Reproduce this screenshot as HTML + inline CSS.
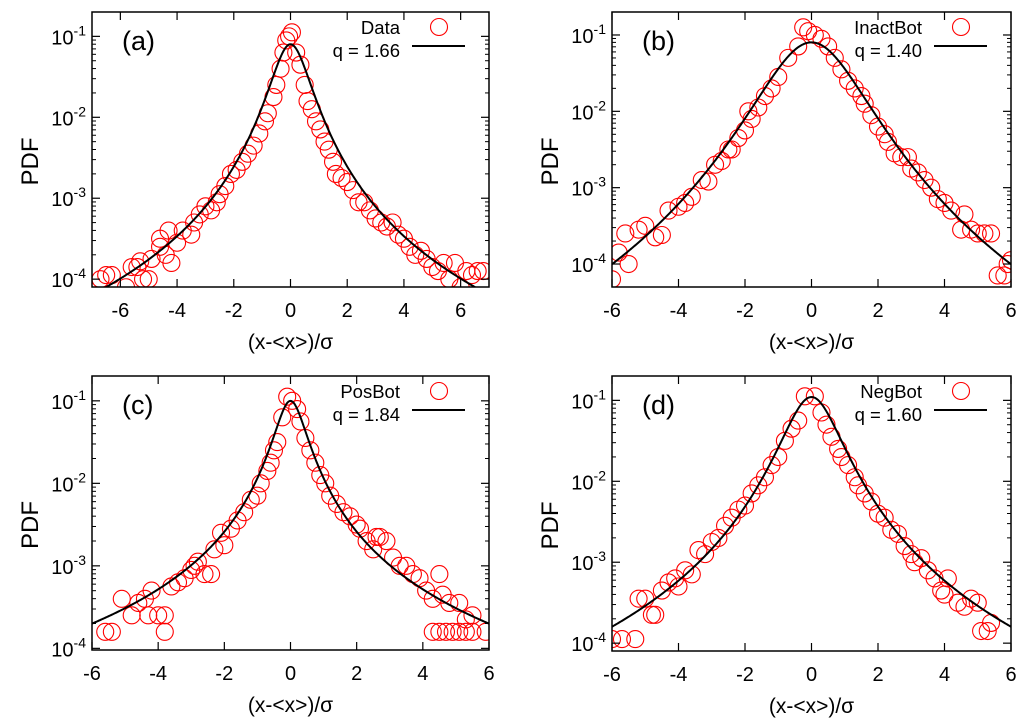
<!DOCTYPE html>
<html><head><meta charset="utf-8"><style>
html,body{margin:0;padding:0;background:#fff;}
svg text{font-family:"Liberation Sans",Arial,sans-serif;fill:#000;}
</style></head>
<body>
<svg id="fig" width="1024" height="723" viewBox="0 0 1024 723" xmlns="http://www.w3.org/2000/svg"></svg>
<script>
// Panel (a) data
const aX=[-6.7,-6.5,-6.3,-5.8,-5.6,-5.4,-5.2,-5.0,-5.3,-4.9,-4.6,-4.4,-4.2,-4.0,-4.6,-4.3,-3.8,-3.5,-3.4,-3.2,-3.0,-2.8,-2.6,-2.5,-2.3,-2.1,-1.9,-1.7,-1.5,-1.3,-1.1,-0.9,-0.8,-0.6,-0.5,-0.35,-0.25,-0.15,-0.05,0.05,0.2,0.35,0.5,0.6,0.75,0.9,1.05,1.2,1.35,1.5,1.6,1.8,2.0,2.2,2.4,2.6,2.8,3.0,3.2,3.4,3.6,3.8,4.0,4.2,4.4,4.6,4.8,5.0,5.2,5.4,5.6,5.8,6.0,6.2,6.4,6.6,6.8];
const aLogP=[-4.0,-3.95,-3.95,-4.1,-3.85,-3.85,-4.0,-4.0,-3.78,-3.75,-3.6,-3.7,-3.8,-3.55,-3.5,-3.4,-3.4,-3.45,-3.3,-3.2,-3.1,-3.15,-3.05,-2.95,-2.85,-2.7,-2.65,-2.55,-2.45,-2.35,-2.2,-2.05,-1.95,-1.75,-1.6,-1.4,-1.2,-1.05,-1.0,-0.95,-1.2,-1.35,-1.6,-1.8,-1.9,-2.05,-2.15,-2.3,-2.4,-2.55,-2.7,-2.75,-2.8,-2.9,-3.05,-3.05,-3.15,-3.25,-3.3,-3.35,-3.3,-3.45,-3.5,-3.6,-3.7,-3.65,-3.75,-3.85,-3.9,-3.8,-4.0,-3.8,-4.1,-3.9,-3.95,-3.9,-3.9];
// Panel (b) data
const bX=[-6,-5.8,-5.5,-5.6,-5.2,-5,-4.7,-4.5,-4.3,-4.0,-3.8,-3.6,-3.3,-3.1,-2.9,-2.7,-2.5,-2.4,-2.2,-2.0,-1.8,-1.9,-1.6,-1.4,-1.2,-1.0,-0.7,-0.4,-0.25,-0.1,0.1,0.3,0.5,0.7,0.9,1.1,1.3,1.5,1.6,1.8,2.0,2.2,2.3,2.5,2.7,2.9,3.0,3.2,3.4,3.6,3.8,4.0,4.2,4.6,4.5,4.8,5.0,5.2,5.4,5.6,5.8,6.0,5.9];
const bLogP=[-4.2,-3.85,-4.0,-3.6,-3.55,-3.5,-3.65,-3.62,-3.3,-3.25,-3.2,-3.12,-2.9,-2.92,-2.7,-2.65,-2.5,-2.5,-2.35,-2.25,-2.1,-2.0,-1.95,-1.8,-1.7,-1.55,-1.3,-1.15,-0.9,-0.95,-1.0,-1.05,-1.15,-1.3,-1.45,-1.6,-1.7,-1.8,-1.9,-2.05,-2.2,-2.3,-2.4,-2.55,-2.6,-2.6,-2.75,-2.8,-2.9,-3.0,-3.15,-3.2,-3.3,-3.35,-3.55,-3.55,-3.6,-3.6,-3.6,-4.15,-4.15,-3.95,-4.0];
// Panel (c) data
const cX=[-5.6,-5.4,-5.1,-4.8,-4.6,-4.4,-4.2,-4.3,-4.0,-3.8,-3.8,-3.6,-3.4,-3.2,-3.0,-2.9,-2.8,-2.6,-2.4,-2.3,-2.1,-2.0,-1.8,-1.6,-1.4,-1.2,-1.0,-0.9,-0.7,-0.6,-0.5,-0.4,-0.25,-0.1,0.05,0.2,0.3,0.45,0.6,0.75,0.9,1.05,1.2,1.4,1.6,1.8,2.0,2.1,2.3,2.5,2.7,2.9,3.1,3.3,3.5,3.7,3.9,4.1,4.3,4.5,4.6,4.8,5.1,5.3,5.5,4.3,4.5,4.7,4.9,5.1,5.3,5.5,5.9,2.6];
const cLogP=[-3.8,-3.8,-3.4,-3.6,-3.45,-3.4,-3.3,-3.6,-3.6,-3.6,-3.8,-3.25,-3.2,-3.15,-3.05,-3.0,-2.95,-3.1,-3.1,-2.8,-2.6,-2.75,-2.55,-2.45,-2.35,-2.2,-2.15,-2.0,-1.85,-1.75,-1.6,-1.5,-1.2,-0.95,-1.0,-1.1,-1.25,-1.45,-1.6,-1.75,-1.9,-2.0,-2.15,-2.25,-2.35,-2.4,-2.5,-2.55,-2.7,-2.8,-2.65,-2.7,-2.9,-3.0,-3.0,-3.1,-3.15,-3.3,-3.4,-3.1,-3.35,-3.45,-3.45,-3.65,-3.6,-3.8,-3.8,-3.8,-3.8,-3.8,-3.8,-3.8,-3.8,-2.65];
// Panel (d) data
const dX=[-6,-5.7,-5.3,-5.0,-5.2,-4.8,-4.7,-4.5,-4.3,-4.1,-4.0,-3.8,-3.6,-3.4,-3.2,-3.0,-2.8,-2.6,-2.4,-2.2,-2.0,-1.8,-1.6,-1.4,-1.2,-1.0,-0.8,-0.6,-0.4,-0.2,0.1,0.3,0.45,0.6,0.8,0.9,1.1,1.3,1.4,1.6,1.8,2.0,2.2,2.4,2.6,2.8,3.0,3.1,3.3,3.5,3.7,3.9,4.1,4.0,4.4,4.6,4.8,5.0,5.1,5.3,5.4];
const dLogP=[-3.95,-3.95,-3.95,-3.45,-3.45,-3.65,-3.65,-3.35,-3.25,-3.2,-3.3,-3.1,-3.15,-2.85,-2.9,-2.75,-2.7,-2.55,-2.45,-2.35,-2.3,-2.15,-2.05,-1.95,-1.8,-1.7,-1.5,-1.35,-1.25,-0.95,-0.95,-1.15,-1.3,-1.45,-1.6,-1.7,-1.8,-1.95,-2.05,-2.15,-2.25,-2.4,-2.45,-2.6,-2.65,-2.8,-2.9,-3.0,-2.95,-3.1,-3.2,-3.35,-3.2,-3.4,-3.5,-3.55,-3.45,-3.5,-3.85,-3.85,-3.75];
// fit parameters [q, amplitude, beta]
const fitQ=[1.66,1.40,1.84,1.60];
const fitA=[0.08,0.08,0.10,0.11];
const fitB=[3.39,0.94,6.1,2.29];
const panelLabels=["(a)","(b)","(c)","(d)"];
const legendNames=["Data","InactBot","PosBot","NegBot"];
const xTicks=[-6,-4,-2,0,2,4,6];
const yDecades=[-4,-3,-2,-1];

const NS="http://www.w3.org/2000/svg";
const svg=document.getElementById('fig');
function mk(tag,attrs,parent){const e=document.createElementNS(NS,tag);for(const k in attrs)e.setAttribute(k,attrs[k]);(parent||svg).appendChild(e);return e;}

const panels=[
 {L:92,R:489,T:12,B:287,xmin:-7,xmax:7,ymin:Math.log10(8e-5),ymax:Math.log10(0.2),xs:aX,ys:aLogP,name:'panel-a'},
 {L:612,R:1011,T:12,B:287,xmin:-6,xmax:6,ymin:Math.log10(5e-5),ymax:Math.log10(0.2),xs:bX,ys:bLogP,name:'panel-b'},
 {L:92,R:489,T:376,B:650,xmin:-6,xmax:6,ymin:-4.02,ymax:Math.log10(0.2),xs:cX,ys:cLogP,name:'panel-c'},
 {L:612,R:1011,T:376,B:651,xmin:-6,xmax:6,ymin:Math.log10(8e-5),ymax:Math.log10(0.2),xs:dX,ys:dLogP,name:'panel-d'}
];

panels.forEach((p,i)=>{
 const g=mk('g',{});
 
 
 const sx=v=>p.L+(v-p.xmin)/(p.xmax-p.xmin)*(p.R-p.L);
 const sy=v=>p.B-(v-p.ymin)/(p.ymax-p.ymin)*(p.B-p.T);
 const clip=mk('clipPath',{id:'clip'+i},g);
 mk('rect',{x:p.L,y:p.T,width:p.R-p.L,height:p.B-p.T},clip);
 const dg=mk('g',{'clip-path':'url(#clip'+i+')'},g);
 
 
 for(let k=0;k<p.xs.length;k++){
  const c=mk('circle',{cx:sx(p.xs[k]),cy:sy(p.ys[k]),r:8.5,fill:'none',stroke:'#ff0000','stroke-width':1.1},dg);
  
  
 }
 const q=fitQ[i],A=fitA[i],b=fitB[i];
 let d='';
 for(let s=0;s<=400;s++){
  const x=p.xmin+(p.xmax-p.xmin)*s/400;
  const y=A*Math.pow(1+(q-1)*b*x*x,1/(1-q));
  d+=(s?'L':'M')+sx(x).toFixed(2)+','+sy(Math.log10(y)).toFixed(2);
 }
 const fit=mk('path',{d:d,fill:'none',stroke:'#000','stroke-width':2,'clip-path':'url(#clip'+i+')'},g);
 
 
 const fr=mk('rect',{x:p.L,y:p.T,width:p.R-p.L,height:p.B-p.T,fill:'none',stroke:'#000','stroke-width':1.5},g);
 
 
 xTicks.forEach(t=>{
  const X=sx(t);
  mk('line',{x1:X,y1:p.B,x2:X,y2:p.B-8,stroke:'#000','stroke-width':1.2},g);
  mk('line',{x1:X,y1:p.T,x2:X,y2:p.T+8,stroke:'#000','stroke-width':1.2},g);
  const tl=mk('text',{x:X,y:p.B+30,'font-size':20,'text-anchor':'middle'},g);
  tl.textContent=String(t);
  
  
 });
 yDecades.forEach(dv=>{
  const Y=sy(dv);
  mk('line',{x1:p.L,y1:Y,x2:p.L+8,y2:Y,stroke:'#000','stroke-width':1.2},g);
  mk('line',{x1:p.R,y1:Y,x2:p.R-8,y2:Y,stroke:'#000','stroke-width':1.2},g);
  for(let m=2;m<10;m++){
   const ym=sy(dv+Math.log10(m));
   if(ym>p.T&&ym<p.B){
    mk('line',{x1:p.L,y1:ym,x2:p.L+4,y2:ym,stroke:'#000','stroke-width':1},g);
    mk('line',{x1:p.R,y1:ym,x2:p.R-4,y2:ym,stroke:'#000','stroke-width':1},g);
   }
  }
  const tl=mk('text',{x:p.L-6,y:Y+8,'font-size':20,'text-anchor':'end'},g);
  
  
  const t1=mk('tspan',{},tl);t1.textContent='10';
  const t2=mk('tspan',{dy:-9,'font-size':14},tl);t2.textContent=String(dv);
 });
 const pl=mk('text',{x:p.L+30,y:p.T+38,'font-size':27},g);
 pl.textContent=panelLabels[i];
 
 
 const lg=mk('g',{},g);
 
 
 const l1=mk('text',{x:p.R-89,y:p.T+22,'font-size':18.5,'text-anchor':'end'},lg);
 l1.textContent=legendNames[i];
 
 
 mk('circle',{cx:p.R-50,cy:p.T+15,r:8.5,fill:'none',stroke:'#ff0000','stroke-width':1.1},lg);
 const l2=mk('text',{x:p.R-89,y:p.T+45,'font-size':18.5,'text-anchor':'end'},lg);
 l2.textContent='q = '+fitQ[i].toFixed(2);
 
 
 mk('line',{x1:p.R-77,y1:p.T+34,x2:p.R-24,y2:p.T+34,stroke:'#000','stroke-width':2},lg);
 const xt=mk('text',{x:(p.L+p.R)/2,y:p.B+62,'font-size':21,'text-anchor':'middle'},g);
 xt.textContent='(x-<x>)/σ';
 
 
 const cy=(p.T+p.B)/2+12;
 const yt=mk('text',{x:0,y:0,'font-size':24,'text-anchor':'middle',transform:'translate('+(p.L-54)+','+cy+') rotate(-90)'},g);
 yt.textContent='PDF';
 
 
});
</script>
</body></html>
